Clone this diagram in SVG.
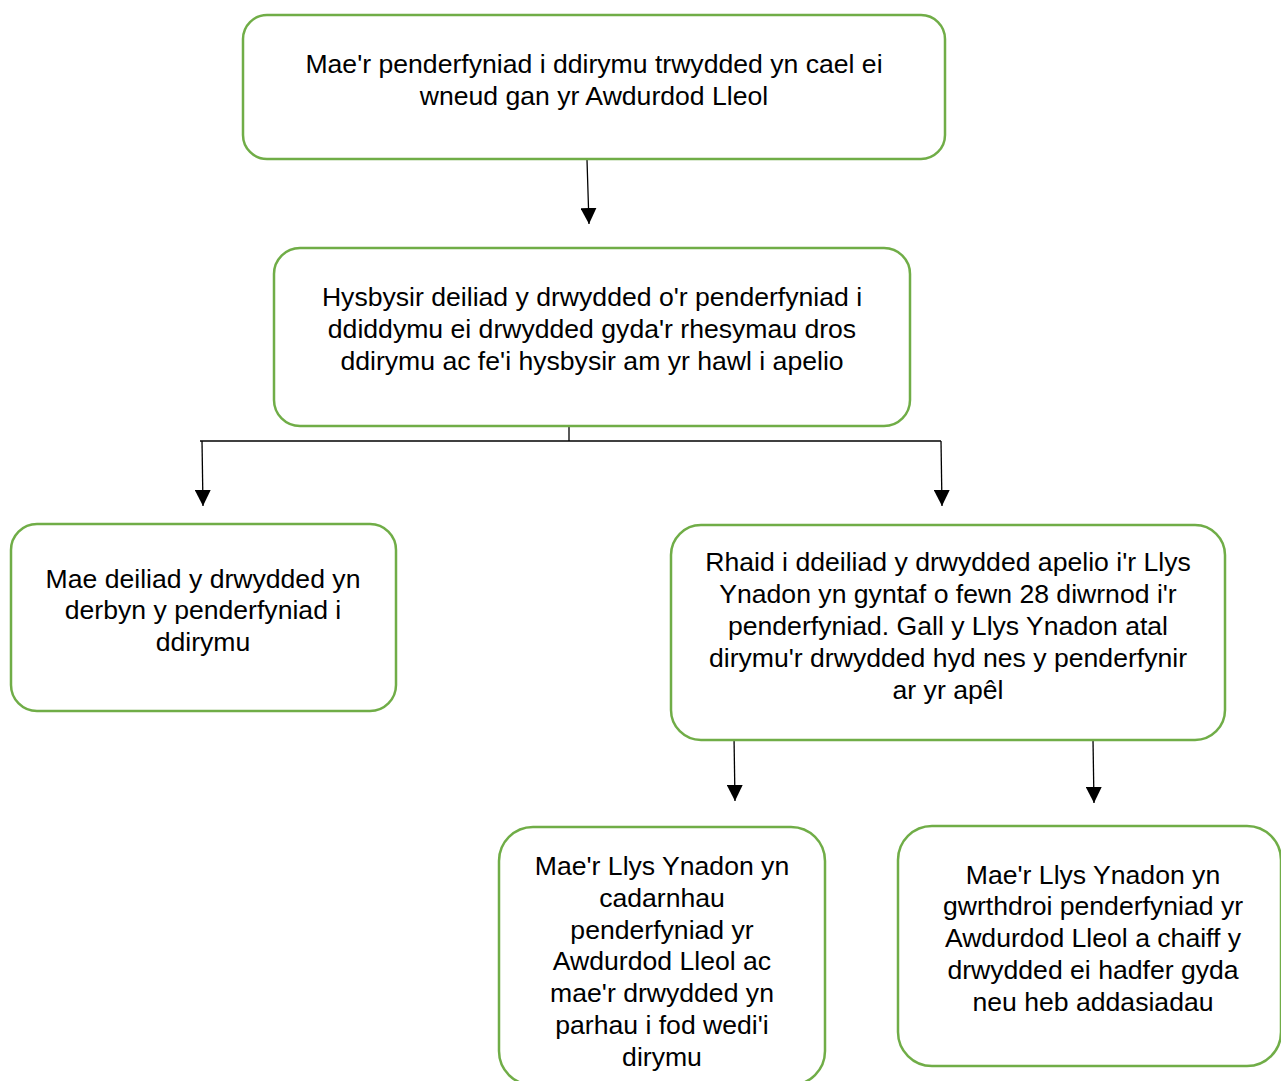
<svg xmlns="http://www.w3.org/2000/svg" width="1281" height="1081" viewBox="0 0 1281 1081">
<style>
.box{fill:#fff;stroke:#70AD47;stroke-width:2.5}
.t{font-family:"Liberation Sans",Arial,sans-serif;font-size:26.6px;fill:#000;text-anchor:middle}
.c{stroke:#000;stroke-width:1.3;fill:none}
</style>
<defs>
<marker id="ah" markerUnits="userSpaceOnUse" markerWidth="16" markerHeight="16" refX="16" refY="8" orient="auto">
<path d="M0,0L16,8L0,16Z" fill="#000"/>
</marker>
</defs>
<rect width="1281" height="1081" fill="#fff"/>
<g id="connectors">
<line class="c" x1="587" y1="160" x2="589" y2="224" marker-end="url(#ah)"/>
<line class="c" x1="569" y1="424" x2="569" y2="441"/>
<line class="c" x1="200" y1="441" x2="941" y2="441"/>
<line class="c" x1="202" y1="441" x2="203" y2="506" marker-end="url(#ah)"/>
<line class="c" x1="941" y1="441" x2="942" y2="506" marker-end="url(#ah)"/>
<line class="c" x1="734" y1="737" x2="735" y2="801" marker-end="url(#ah)"/>
<line class="c" x1="1093" y1="740" x2="1094" y2="803" marker-end="url(#ah)"/>
</g>
<g id="n1">
<rect class="box" x="243" y="15" width="702" height="144" rx="24"/>
<text class="t" x="594" y="73">Mae'r penderfyniad i ddirymu trwydded yn cael ei</text>
<text class="t" x="594" y="105">wneud gan yr Awdurdod Lleol</text>
</g>
<g id="n2">
<rect class="box" x="274" y="248" width="636" height="178" rx="26"/>
<text class="t" x="592" y="306">Hysbysir deiliad y drwydded o'r penderfyniad i</text>
<text class="t" x="592" y="338">ddiddymu ei drwydded gyda'r rhesymau dros</text>
<text class="t" x="592" y="370">ddirymu ac fe'i hysbysir am yr hawl i apelio</text>
</g>
<g id="n3">
<rect class="box" x="11" y="524" width="385" height="187" rx="26"/>
<text class="t" x="203" y="588">Mae deiliad y drwydded yn</text>
<text class="t" x="203" y="619">derbyn y penderfyniad i</text>
<text class="t" x="203" y="651">ddirymu</text>
</g>
<g id="n4">
<rect class="box" x="671" y="525" width="554" height="215" rx="30"/>
<text class="t" x="948" y="571">Rhaid i ddeiliad y drwydded apelio i'r Llys</text>
<text class="t" x="948" y="603">Ynadon yn gyntaf o fewn 28 diwrnod i'r</text>
<text class="t" x="948" y="635">penderfyniad. Gall y Llys Ynadon atal</text>
<text class="t" x="948" y="667">dirymu'r drwydded hyd nes y penderfynir</text>
<text class="t" x="948" y="699">ar yr apêl</text>
</g>
<g id="n5">
<rect class="box" x="499" y="827" width="326" height="258" rx="34"/>
<text class="t" x="662" y="875">Mae'r Llys Ynadon yn</text>
<text class="t" x="662" y="907">cadarnhau</text>
<text class="t" x="662" y="939">penderfyniad yr</text>
<text class="t" x="662" y="970">Awdurdod Lleol ac</text>
<text class="t" x="662" y="1002">mae'r drwydded yn</text>
<text class="t" x="662" y="1034">parhau i fod wedi'i</text>
<text class="t" x="662" y="1066">dirymu</text>
</g>
<g id="n6">
<rect class="box" x="898" y="826" width="383" height="240" rx="34"/>
<text class="t" x="1093" y="884">Mae'r Llys Ynadon yn</text>
<text class="t" x="1093" y="915">gwrthdroi penderfyniad yr</text>
<text class="t" x="1093" y="947">Awdurdod Lleol a chaiff y</text>
<text class="t" x="1093" y="979">drwydded ei hadfer gyda</text>
<text class="t" x="1093" y="1011">neu heb addasiadau</text>
</g>
</svg>
